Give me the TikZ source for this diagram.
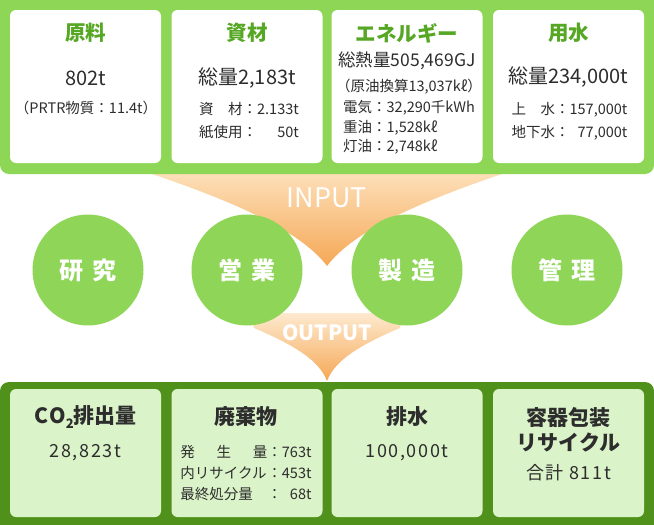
\documentclass[tikz,border=0pt]{standalone}
\usepackage{fontspec}
\setmainfont{Noto Sans CJK JP}
\newfontfamily\spacedjp[LetterSpace=9]{Noto Sans CJK JP}
\usetikzlibrary{positioning}
\definecolor{bandlight}{RGB}{141,214,86}
\definecolor{banddark}{RGB}{80,145,28}
\definecolor{titlegreen}{RGB}{86,168,36}
\definecolor{boxpale}{RGB}{219,243,201}
\definecolor{unitgreen}{RGB}{143,214,88}
\definecolor{funneltop}{RGB}{253,224,186}
\definecolor{funnelbot}{RGB}{245,168,86}
\definecolor{ink}{RGB}{45,45,45}

\begin{document}
\begin{tikzpicture}[x=1pt, y=-1pt,
    box/.style={rounded corners=6pt, minimum width=151pt, minimum height=153pt, inner sep=0pt},
    hdr/.style={font=\fontsize{20.5}{24}\selectfont\bfseries, text=titlegreen, inner sep=0pt},
    ohdr/.style={font=\fontsize{21}{25}\selectfont\bfseries, text=ink, align=center, inner sep=0pt},
    val/.style={font=\fontsize{20}{24}\selectfont, text=ink, inner sep=0pt},
    oval/.style={font=\spacedjp\fontsize{18}{21}\selectfont, text=ink, inner sep=0pt},
    sub/.style={font=\fontsize{14.5}{23}\selectfont, text=ink, inner sep=0pt},
    unit/.style={circle, fill=unitgreen, minimum size=111pt, inner sep=0pt,
                 text=white, font=\fontsize{24}{28}\selectfont\bfseries},
    flowlbl/.style={text=white, inner sep=0pt}
  ]
    \useasboundingbox (0,0) rectangle (654,525);

    % funnels
    \shade[top color=funneltop, bottom color=funnelbot]
      (146,172) -- (508,172) .. controls (424,200) and (354,230) .. (327,266)
      .. controls (300,230) and (230,200) .. (146,172) -- cycle;
    \shade[top color=funneltop!70!white, bottom color=funnelbot]
      (250,313) -- (404,313) -- (400,328) .. controls (360,345) and (335,360) .. (327,381)
      .. controls (319,360) and (294,345) .. (254,328) -- cycle;

    % bands
    \fill[bandlight, rounded corners=9pt] (0,-12) rectangle (654,174);
    \fill[banddark, rounded corners=9pt] (0,382) rectangle (654,540);

    \foreach \n/\cx in {a/85.5,b/247,c/407,d/568.5} {
      \node[box, fill=white] (in\n) at (\cx,86.5) {};
      \node[box, fill=boxpale, minimum height=128pt] (out\n) at (\cx,453) {};
    }

    % input
    \node[hdr] (rawT) at (85.5,33) {原料};
    \node[val] (rawV) at (85.5,78) {802t};
    \node[sub] (rawS) at (86,108) {（PRTR物質：11.4t）};

    \node[hdr] (matT) at (247,33) {資材};
    \node[val] (matV) at (247,78) {総量2,183t};
    \node[sub] (matS) at (249,121.5)
      {\begin{tabular}{@{}l@{}r@{}}資　材：&2.133t\\紙使用：&50t\end{tabular}};

    \node[hdr] (engT) at (407,33) {エネルギー};
    \node[val, font=\fontsize{17.5}{21}\selectfont] (engV) at (407,61) {総熱量505,469GJ};
    \node[sub] (engS) at (409,87) {（原油換算13,037kℓ）};
    \node[sub, font=\fontsize{14.5}{19.5}\selectfont, align=left, anchor=west] (engL) at (343,127.5)
      {電気：32,290千kWh\\重油：1,528kℓ\\灯油：2,748kℓ};

    \node[hdr] (watT) at (568.5,33) {用水};
    \node[val] (watV) at (568.5,77) {総量234,000t};
    \node[sub] (watS) at (569.5,121.5)
      {\begin{tabular}{@{}l@{}r@{}}上　水：&157,000t\\地下水：&77,000t\end{tabular}};

    % divisions
    \node[unit] (lab) at (88,270) {研\hspace{10pt}究};
    \node[unit] (sales) at (247,270) {営\hspace{10pt}業};
    \node[unit] (plant) at (407,270) {製\hspace{10pt}造};
    \node[unit] (admin) at (567,270) {管\hspace{10pt}理};

    \node[flowlbl, font=\fontsize{27}{30}\selectfont] (inLbl) at (327,198) {INPUT};
    \node[flowlbl, font=\fontsize{21}{24}\selectfont\bfseries] (outLbl) at (327,333) {OUTPUT};

    % output
    \node[ohdr] (co2T) at (85.5,417) {C\kern1pt O\raisebox{-0.2em}{\fontsize{13}{13}\selectfont 2}排出量};
    \node[oval] (co2V) at (85.5,453) {28,823t};

    \node[ohdr] (wasT) at (246,417) {廃棄物};
    \node[sub, font=\fontsize{14.5}{21}\selectfont] (wasS) at (246,474)
      {\begin{tabular}{@{}l@{}l@{}r@{}}\makebox[6em][s]{発\hfill 生\hfill 量}&：&763t\\
        内リサイクル&：&453t\\最終処分量&：&68t\end{tabular}};

    \node[ohdr] (drnT) at (407,417) {排水};
    \node[oval] (drnV) at (407,453) {100,000t};

    \node[ohdr] (pkgT) at (568.5,429.5) {容器包装\\リサイクル};
    \node[oval] (pkgV) at (568.5,473) {合計 811t};
\end{tikzpicture}
\end{document}
